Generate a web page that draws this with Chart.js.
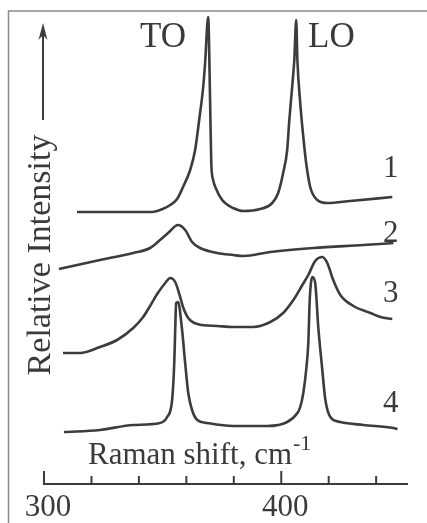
<!DOCTYPE html>
<html>
<head>
<meta charset="utf-8">
<script src="https://cdn.jsdelivr.net/npm/chart.js@4.4.1/dist/chart.umd.min.js"></script>
<style>
  html, body { margin: 0; padding: 0; background: #fff; }
  #wrap { width: 427px; height: 523px; }
</style>
</head>
<body>
<div id="wrap"><canvas id="ramanChart" width="427" height="523"></canvas></div>
<script>
// Raman spectra (shift in cm-1, intensity in arbitrary units)
var shift1 = [313.9, 345.5, 350.0, 353.2, 356.1, 358.6, 361.6, 363.7, 365.4, 367.1, 367.9, 369.2, 370.0, 370.5, 371.3, 372.2, 375.1, 379.7, 384.0, 391.1, 396.2, 398.7, 400.8, 402.5, 403.4, 404.6, 405.5, 406.3, 406.8, 408.0, 409.3, 410.5, 412.2, 415.2, 419.4, 429.1, 446.8];
var int1   = [272, 272, 275, 279, 285, 297, 314, 334, 364, 397, 421, 467, 384, 321, 304, 297, 284, 276, 273, 275, 281, 291, 311, 334, 364, 397, 424, 464, 424, 381, 347, 321, 297, 284, 281, 283, 287];

var shift2 = [306.3, 323.6, 337.6, 344.7, 348.9, 352.3, 356.5, 359.5, 362.4, 365.8, 373.0, 379.7, 384.0, 395.4, 413.5, 434.6, 447.3];
var int2   = [215, 224, 231, 236, 244, 251, 259, 254, 242, 236, 231, 229, 228, 232, 236, 239, 241];

var shift3 = [308.0, 315.2, 323.6, 330.8, 337.6, 341.8, 344.7, 347.7, 351.1, 353.2, 355.3, 357.4, 358.6, 360.8, 364.6, 373.0, 379.7, 388.2, 395.4, 400.8, 405.1, 408.9, 411.4, 414.3, 417.3, 419.4, 421.9, 424.9, 430.4, 437.6, 441.8, 446.8];
var int3   = [131, 131, 137, 144, 156, 167, 178, 190, 201, 206, 202, 187, 177, 166, 160, 158, 157, 157, 162, 171, 184, 199, 209, 223, 227, 221, 204, 189, 178, 171, 167, 165];

var shift4 = [308.4, 323.6, 337.6, 348.9, 351.9, 354.0, 354.9, 355.3, 355.7, 356.5, 358.2, 359.5, 360.8, 362.4, 364.6, 368.8, 379.7, 394.1, 402.5, 406.8, 408.0, 409.3, 410.5, 411.4, 412.0, 413.1, 414.3, 415.6, 417.3, 418.6, 420.7, 424.9, 434.6, 447.3, 449.0];
var int4   = [52, 54, 59, 61, 67, 84, 121, 154, 181, 182, 154, 121, 91, 74, 64, 61, 58, 58, 62, 71, 77, 91, 114, 141, 184, 207, 201, 157, 114, 84, 67, 62, 59, 56, 55];

var tickLabels = ['300', '400'];
var curveNames = ['1', '2', '3', '4'];
var nameAt = [[165, '1'], [230, '2'], [290, '3'], [400, '4']];

var lineColor = '#3c3c3c';
var serif = '"Liberation Serif", "DejaVu Serif", serif';

function toPoints(xs, ys) {
    return xs.map(function (x, i) {
        return {x: x, y: ys[i]};
    });
}

function makeSet(label, xs, ys) {
    return {
        label: label,
        data: toPoints(xs, ys),
        borderColor: lineColor,
        borderWidth: 2.6,
        pointRadius: 0,
        fill: false,
        cubicInterpolationMode: 'monotone'
    };
}

// frame, arrow, inward ticks and the texts
var decor = {
    id: 'decor',
    beforeDraw: function (chart) {
        var ctx = chart.ctx;
        ctx.save();
        ctx.strokeStyle = '#8a8a8a';
        ctx.lineWidth = 1.5;
        ctx.beginPath();
        ctx.moveTo(427, 11);
        ctx.lineTo(8.5, 11);
        ctx.lineTo(8.5, 523);
        ctx.stroke();
        ctx.restore();
    },
    afterDraw: function (chart) {
        var ctx = chart.ctx;
        var xs = chart.scales.x;
        var axisY = chart.chartArea.bottom;
        ctx.save();

        // tick marks pointing up into the plot
        ctx.strokeStyle = '#3c3c3c';
        ctx.lineWidth = 2;
        xs.ticks.forEach(function (t) {
            var px = xs.getPixelForValue(t.value);
            var len = (t.value % 100 === 0) ? 13 : 8;
            ctx.beginPath();
            ctx.moveTo(px, axisY);
            ctx.lineTo(px, axisY - len);
            ctx.stroke();
        });

        // y arrow
        ctx.lineWidth = 2;
        ctx.beginPath();
        ctx.moveTo(43, 120);
        ctx.lineTo(43, 28);
        ctx.stroke();
        ctx.fillStyle = '#3c3c3c';
        ctx.beginPath();
        ctx.moveTo(43, 23);
        ctx.lineTo(38.5, 40);
        ctx.lineTo(43, 35);
        ctx.lineTo(47.5, 40);
        ctx.closePath();
        ctx.fill();

        ctx.fillStyle = '#3a3a3a';
        ctx.textBaseline = 'alphabetic';

        // y title
        ctx.save();
        ctx.translate(50, 255);
        ctx.rotate(-Math.PI / 2);
        ctx.font = '34px ' + serif;
        ctx.textAlign = 'center';
        ctx.fillText('Relative Intensity', 0, 0);
        ctx.restore();

        // x title with superscript
        ctx.textAlign = 'left';
        ctx.font = '31px ' + serif;
        ctx.fillText('Raman shift, cm', 88, 464);
        var w = ctx.measureText('Raman shift, cm').width;
        ctx.font = '22px ' + serif;
        ctx.fillText('-1', 88 + w + 1, 450);

        // peak names
        ctx.font = '35px ' + serif;
        ctx.fillText('TO', 140, 47);
        ctx.fillText('LO', 308, 47);

        // curve numbers
        ctx.font = '31px ' + serif;
        nameAt.forEach(function (n) {
            ctx.fillText(n[1], 383, n[0] + 12);
        });
        ctx.restore();
    }
};

var ctx = document.getElementById('ramanChart');
var myChart = new Chart(ctx, {
    type: 'line',
    data: {
        datasets: [
            makeSet(curveNames[0], shift1, int1),
            makeSet(curveNames[1], shift2, int2),
            makeSet(curveNames[2], shift3, int3),
            makeSet(curveNames[3], shift4, int4)
        ]
    },
    options: {
        responsive: false,
        animation: false,
        layout: {padding: {left: 44, right: 20, top: 12, bottom: 0}},
        plugins: {legend: {display: false}, tooltip: {enabled: false}},
        scales: {
            x: {
                type: 'linear',
                min: 300,
                max: 453,
                afterFit: function (scale) {
                    scale.height = 39;
                },
                afterBuildTicks: function (scale) {
                    scale.ticks = [300, 320, 340, 360, 380, 400, 420, 440].map(function (v) {
                        return {value: v};
                    });
                },
                ticks: {
                    autoSkip: false,
                    maxRotation: 0,
                    padding: 5,
                    labelOffset: 4,
                    color: '#3a3a3a',
                    font: {family: serif, size: 31},
                    callback: function (v) {
                        var s = String(v);
                        return tickLabels.indexOf(s) >= 0 ? s : '';
                    }
                },
                grid: {display: false, drawTicks: false},
                border: {display: true, color: '#3c3c3c', width: 2}
            },
            y: {
                type: 'linear',
                display: false,
                min: 0,
                max: 472
            }
        }
    },
    plugins: [decor]
});
</script>
</body>
</html>
